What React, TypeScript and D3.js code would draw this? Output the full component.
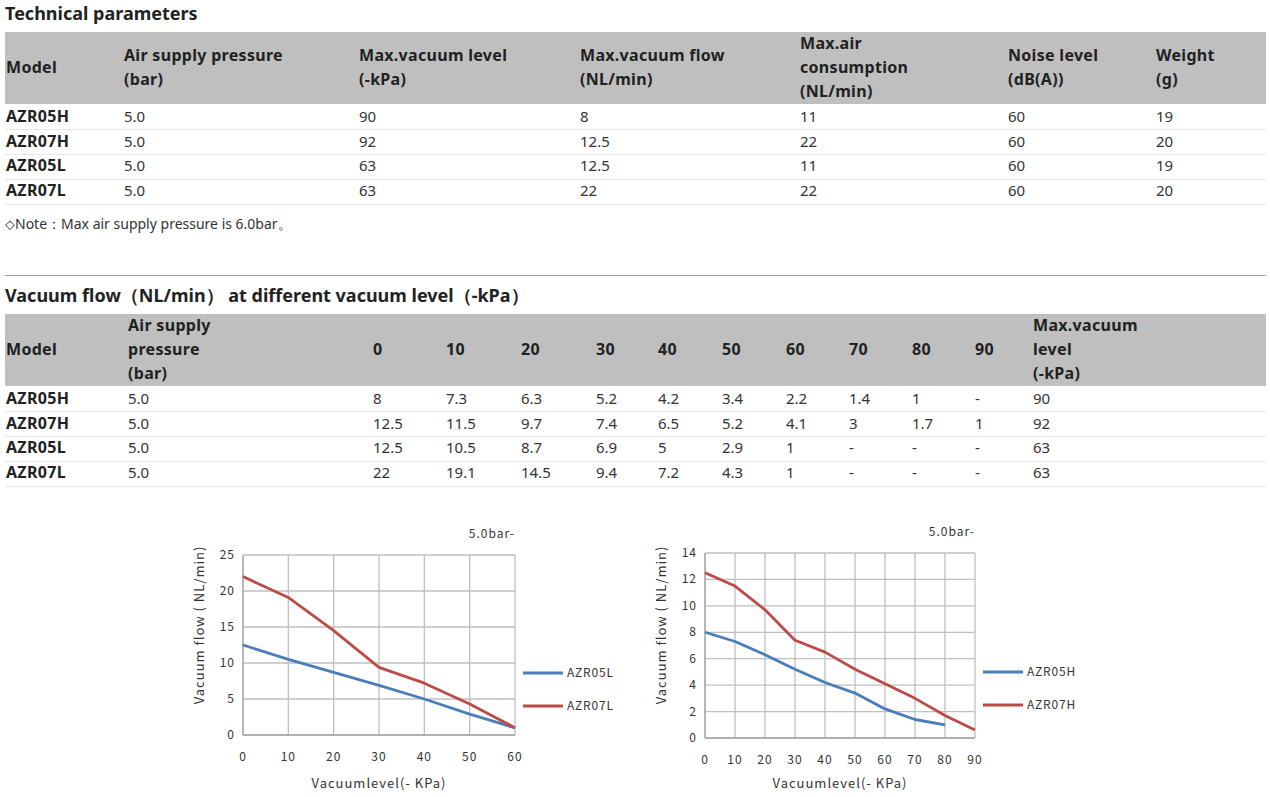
import React from "react";
import * as d3 from "d3";

// ---------- Data ----------
const table1Headers: string[][] = [
  ["Model"],
  ["Air supply pressure", "(bar)"],
  ["Max.vacuum level", "(-kPa)"],
  ["Max.vacuum flow", "(NL/min)"],
  ["Max.air", "consumption", "(NL/min)"],
  ["Noise level", "(dB(A))"],
  ["Weight", "(g)"],
];
const models = ["AZR05H", "AZR07H", "AZR05L", "AZR07L"];
const airSupply = ["5.0", "5.0", "5.0", "5.0"];
const maxVacuumLevel = ["90", "92", "63", "63"];
const maxVacuumFlow = ["8", "12.5", "12.5", "22"];
const maxAirConsumption = ["11", "22", "11", "22"];
const noiseLevel = ["60", "60", "60", "60"];
const weight = ["19", "20", "19", "20"];

const vacuumLevels = ["0", "10", "20", "30", "40", "50", "60", "70", "80", "90"];
const flowAZR05H = ["8", "7.3", "6.3", "5.2", "4.2", "3.4", "2.2", "1.4", "1", "-"];
const flowAZR07H = ["12.5", "11.5", "9.7", "7.4", "6.5", "5.2", "4.1", "3", "1.7", "1"];
const flowAZR05L = ["12.5", "10.5", "8.7", "6.9", "5", "2.9", "1", "-", "-", "-"];
const flowAZR07L = ["22", "19.1", "14.5", "9.4", "7.2", "4.3", "1", "-", "-", "-"];
const flowRows = [flowAZR05H, flowAZR07H, flowAZR05L, flowAZR07L];

// chart series (as plotted)
const chartL_x = [0, 10, 20, 30, 40, 50, 60];
const chartL_AZR05L = [12.5, 10.5, 8.7, 6.9, 5, 2.9, 1];
const chartL_AZR07L = [22, 19.1, 14.5, 9.4, 7.2, 4.3, 1];
const chartL_yTicks = [0, 5, 10, 15, 20, 25];

const chartH_x05 = [0, 10, 20, 30, 40, 50, 60, 70, 80];
const chartH_AZR05H = [8, 7.3, 6.3, 5.2, 4.2, 3.4, 2.2, 1.4, 1];
const chartH_x07 = [0, 10, 20, 30, 40, 50, 60, 70, 80, 90];
const chartH_AZR07H = [12.5, 11.5, 9.7, 7.4, 6.5, 5.2, 4.1, 3, 1.7, 0.6];
const chartH_yTicks = [0, 2, 4, 6, 8, 10, 12, 14];

const BLUE = "#4a7ebb";
const RED = "#be4b48";
const FONT = "'Noto Sans', 'Open Sans', sans-serif";
const CFONT = "'Noto Sans CJK SC', 'Noto Sans', sans-serif";
const HB = { fontSize: 16, fontWeight: 700, letterSpacing: 0.3, fill: "#222" } as const;

// ---------- Tables ----------
function Table1() {
  const colX = [6, 124, 359, 580, 800, 1008, 1156];
  const cols = [models, airSupply, maxVacuumLevel, maxVacuumFlow, maxAirConsumption, noiseLevel, weight];
  const rowY = [117, 142, 166, 191];
  const sepY = [129.5, 154.5, 179.5, 204.5];
  return (
    <g fontFamily={FONT}>
      <text x={5} y={20} fontSize={18} fontWeight={700} fill="#222">Technical parameters</text>
      <rect x={5} y={32} width={1261} height={72} fill="#bfbfbf" />
      {table1Headers.map((lines, i) => {
        const n = lines.length;
        const c = 68;
        return lines.map((l, j) => (
          <text key={i + "-" + j} x={colX[i]} y={c + (j - (n - 1) / 2) * 24 + 5} {...HB}>{l}</text>
        ));
      })}
      {sepY.map((y, i) => (
        <line key={i} x1={5} x2={1266} y1={y} y2={y} stroke="#e8e8e8" strokeWidth={1} />
      ))}
      {cols.map((col, ci) =>
        col.map((v, ri) =>
          ci === 0 ? (
            <text key={ci + "_" + ri} x={colX[ci]} y={rowY[ri] + 5} {...HB}>{v}</text>
          ) : (
            <text key={ci + "_" + ri} x={colX[ci]} y={rowY[ri] + 5} fontSize={15} fill="#333">{v}</text>
          )
        )
      )}
      <text x={5} y={229} fontSize={14} fill="#333">⬦Note：Max air supply pressure is 6.0bar。</text>
    </g>
  );
}

function Table2() {
  const numX = [373, 446, 521, 596, 658, 722, 786, 849, 912, 975];
  const rowY = [399, 424, 448, 473];
  const sepY = [411.5, 436.5, 461.5, 486.5];
  const maxLevels = maxVacuumLevel;
  return (
    <g fontFamily={FONT}>
      <line x1={5} x2={1266} y1={275.5} y2={275.5} stroke="#9a9a9a" strokeWidth={1} />
      <text x={5} y={302} fontSize={18} fontWeight={700} fill="#222">Vacuum flow（NL/min） at different vacuum level（-kPa）</text>
      <rect x={5} y={314} width={1261} height={72} fill="#bfbfbf" />
      <text x={6} y={355} {...HB}>Model</text>
      {["Air supply", "pressure", "(bar)"].map((l, j) => (
        <text key={j} x={128} y={331 + j * 24} {...HB}>{l}</text>
      ))}
      {vacuumLevels.map((v, i) => (
        <text key={i} x={numX[i]} y={355} {...HB}>{v}</text>
      ))}
      {["Max.vacuum", "level", "(-kPa)"].map((l, j) => (
        <text key={j} x={1033} y={331 + j * 24} {...HB}>{l}</text>
      ))}
      {sepY.map((y, i) => (
        <line key={i} x1={5} x2={1266} y1={y} y2={y} stroke="#e8e8e8" strokeWidth={1} />
      ))}
      {models.map((m, ri) => (
        <g key={m}>
          <text x={6} y={rowY[ri] + 5} {...HB}>{m}</text>
          <text x={128} y={rowY[ri] + 5} fontSize={15} fill="#333">{airSupply[ri]}</text>
          {flowRows[ri].map((v, ci) => (
            <text key={ci} x={numX[ci]} y={rowY[ri] + 5} fontSize={15} fill="#333">{v}</text>
          ))}
          <text x={1033} y={rowY[ri] + 5} fontSize={15} fill="#333">{maxLevels[ri]}</text>
        </g>
      ))}
    </g>
  );
}

// ---------- Charts ----------
type Series = { name: string; xs: number[]; ys: number[]; color: string };

function Chart(props: {
  x0: number; x1: number; yTop: number; yBot: number;
  xMax: number; yMax: number; xStep: number; yTicks: number[];
  series: Series[]; legendX: number; legendY: number[];
}) {
  const { x0, x1, yTop, yBot, xMax, yMax, xStep, yTicks, series, legendX, legendY } = props;
  const x = d3.scaleLinear().domain([0, xMax]).range([x0, x1]);
  const y = d3.scaleLinear().domain([0, yMax]).range([yBot, yTop]);
  const xTicks = d3.range(0, xMax + 0.001, xStep);
  const grid = "#bfbfbf";
  return (
    <g fontFamily={CFONT} fill="#333">
      {xTicks.map((t) => (
        <line key={"gx" + t} x1={x(t)} x2={x(t)} y1={yTop} y2={yBot} stroke={grid} strokeWidth={1.3} />
      ))}
      {yTicks.map((t) => (
        <line key={"gy" + t} x1={x0} x2={x1} y1={y(t)} y2={y(t)} stroke={grid} strokeWidth={1.3} />
      ))}
      <line x1={x0} x2={x0} y1={yTop} y2={yBot} stroke="#a6a6a6" strokeWidth={1.3} />
      <line x1={x0} x2={x1} y1={yBot} y2={yBot} stroke="#a6a6a6" strokeWidth={1.3} />
      {yTicks.map((t) => (
        <text key={"ty" + t} x={x0 - 8} y={y(t) + 4} fontSize={12} textAnchor="end" letterSpacing={1}>{t}</text>
      ))}
      {xTicks.map((t) => (
        <text key={"tx" + t} x={x(t)} y={yBot + 26} fontSize={12} textAnchor="middle" letterSpacing={1}>{t}</text>
      ))}
      {series.map((s) => {
        const pts = s.xs.map((xv, i) => [x(xv), y(s.ys[i])] as [number, number]);
        const path = d3.line()(pts) || "";
        return <path key={s.name} d={path} fill="none" stroke={s.color} strokeWidth={2.8} strokeLinejoin="round" />;
      })}
      {series.map((s, i) => (
        <g key={"lg" + s.name}>
          <line x1={legendX} x2={legendX + 40} y1={legendY[i]} y2={legendY[i]} stroke={s.color} strokeWidth={2.8} />
          <text x={legendX + 44} y={legendY[i] + 4} fontSize={12} letterSpacing={0.8}>{s.name}</text>
        </g>
      ))}
      <text x={x1} y={yTop - 17} fontSize={12} textAnchor="end" letterSpacing={1}>5.0bar-</text>
      <text transform={`translate(${x0 - 39},625) rotate(-90)`} fontSize={13} textAnchor="middle" letterSpacing={1}>Vacuum flow ( NL/min)</text>
      <text x={(x0 + x1) / 2} y={788} fontSize={13} textAnchor="middle" letterSpacing={1}>Vacuumlevel(- KPa)</text>
    </g>
  );
}

export default function App() {
  return (
    <div style={{ position: "absolute", left: 0, top: 0 }}>
      <svg width={1270} height={797} style={{ display: "block", background: "#fff" }}>
        <Table1 />
        <Table2 />
        <Chart
          x0={243} x1={515} yTop={555} yBot={735}
          xMax={60} yMax={25} xStep={10} yTicks={chartL_yTicks}
          series={[
            { name: "AZR05L", xs: chartL_x, ys: chartL_AZR05L, color: BLUE },
            { name: "AZR07L", xs: chartL_x, ys: chartL_AZR07L, color: RED },
          ]}
          legendX={523} legendY={[673, 706]}
        />
        <Chart
          x0={705} x1={975} yTop={553} yBot={738}
          xMax={90} yMax={14} xStep={10} yTicks={chartH_yTicks}
          series={[
            { name: "AZR05H", xs: chartH_x05, ys: chartH_AZR05H, color: BLUE },
            { name: "AZR07H", xs: chartH_x07, ys: chartH_AZR07H, color: RED },
          ]}
          legendX={983} legendY={[672, 705]}
        />
      </svg>
    </div>
  );
}
